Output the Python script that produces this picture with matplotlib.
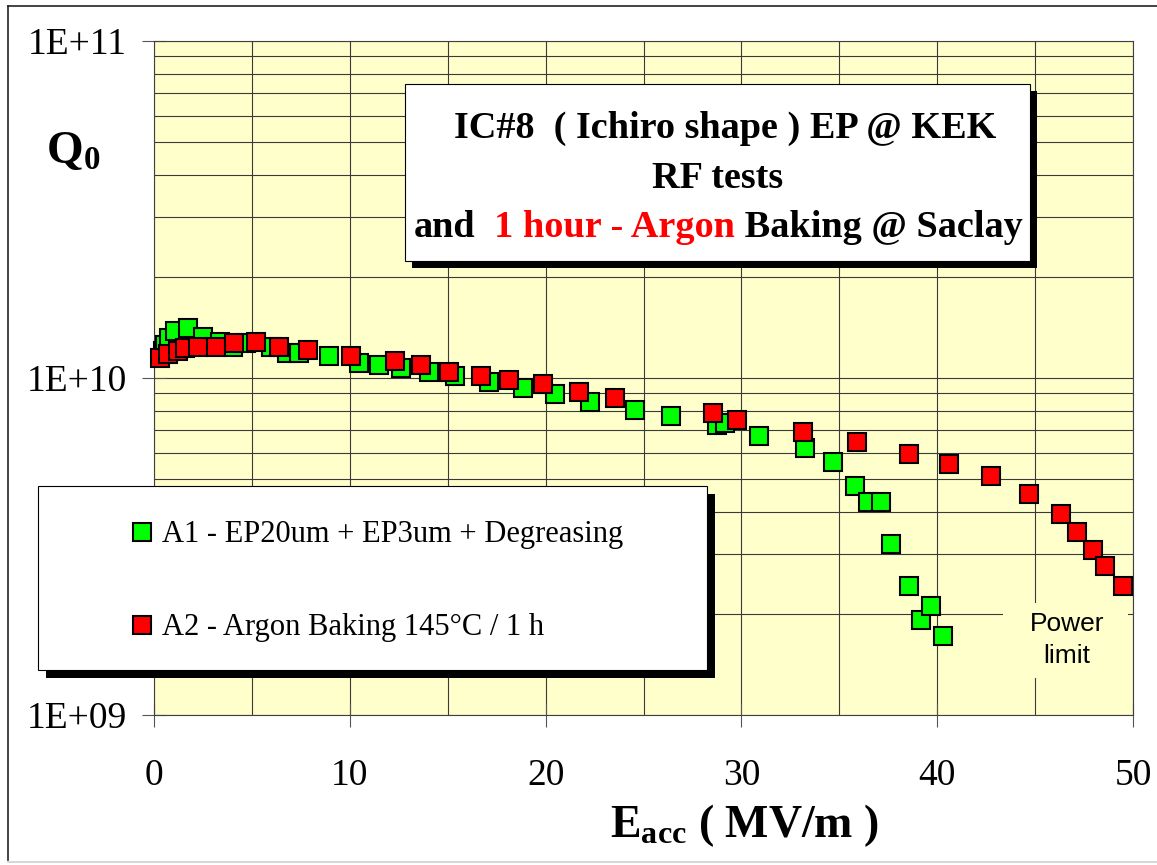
import numpy as np
import matplotlib
matplotlib.use('Agg')
import matplotlib.pyplot as plt
from matplotlib.patches import Rectangle
from matplotlib.lines import Line2D
from matplotlib.ticker import MultipleLocator, LogLocator, NullFormatter

# A1 - EP20um + EP3um + Degreasing (green)
e_a1 = [0.45, 0.54, 0.79, 1.05, 1.76, 2.49, 3.35, 4.03, 4.68, 5.99, 6.79, 7.43,
        8.92, 10.45, 11.47, 12.60, 14.04, 15.36, 17.11, 18.85, 20.46, 22.29,
        24.55, 26.39, 28.73, 29.15, 30.90, 33.24, 34.69, 35.79, 36.47, 37.13,
        37.64, 38.57, 39.17, 39.68, 40.29]
q_a1 = [1.20e10, 1.25e10, 1.31e10, 1.38e10, 1.41e10, 1.32e10, 1.28e10, 1.24e10,
        1.27e10, 1.24e10, 1.19e10, 1.19e10, 1.16e10, 1.11e10, 1.09e10, 1.07e10,
        1.04e10, 1.016e10, 9.75e9, 9.32e9, 8.97e9, 8.51e9, 8.04e9, 7.71e9,
        7.25e9, 7.34e9, 6.73e9, 6.19e9, 5.64e9, 4.78e9, 4.30e9, 4.30e9, 3.22e9,
        2.41e9, 1.91e9, 2.11e9, 1.72e9]

# A2 - Argon Baking 145°C / 1 h (red)
e_a2 = [0.33, 0.71, 1.22, 1.56, 2.24, 3.18, 4.11, 5.22, 6.36, 7.89, 10.04, 12.29,
        13.62, 15.05, 16.68, 18.11, 19.87, 21.69, 23.52, 28.55, 29.78, 33.15,
        35.91, 38.57, 40.59, 42.73, 44.68, 46.32, 47.15, 47.97, 48.57, 49.50]
q_a2 = [1.146e10, 1.18e10, 1.20e10, 1.23e10, 1.24e10, 1.24e10, 1.27e10, 1.28e10,
        1.24e10, 1.21e10, 1.16e10, 1.12e10, 1.09e10, 1.044e10, 1.014e10, 9.87e9,
        9.60e9, 9.11e9, 8.74e9, 7.86e9, 7.51e9, 6.93e9, 6.47e9, 5.95e9, 5.56e9,
        5.12e9, 4.53e9, 3.95e9, 3.49e9, 3.09e9, 2.77e9, 2.41e9]

series_labels = ['A1 - EP20um + EP3um + Degreasing', 'A2 - Argon Baking 145°C / 1 h']
series_colors = ['#00ff00', '#ff0000']

x_ticks = [0, 10, 20, 30, 40, 50]
y_ticks = [1e9, 1e10, 1e11]
y_tick_labels = ['1E+09', '1E+10', '1E+11']

title_line1 = 'IC#8  ( Ichiro shape ) EP @ KEK'
title_line2 = 'RF tests'
title_line3 = [('and', 'black'), ('  1 hour - Argon', '#ff0000'), (' Baking @ Saclay', 'black')]

plt.rcParams['font.family'] = 'Liberation Serif'
plt.rcParams['mathtext.fontset'] = 'custom'
plt.rcParams['mathtext.rm'] = 'Liberation Serif'
plt.rcParams['mathtext.bf'] = 'Liberation Serif:bold'
plt.rcParams['mathtext.it'] = 'Liberation Serif:italic'

W, H = 1157, 865


def fx(px):
    return px / W


def fy(py):
    return 1 - py / H


fig = plt.figure(figsize=(W / 100, H / 100), dpi=100)
ax = fig.add_axes([fx(154), fy(715), fx(1133) - fx(154), fy(41) - fy(715)])
ax.set_facecolor('#ffffcc')
ax.set_yscale('log')

# data
ax.plot(e_a1, q_a1, ls='none', marker='s', ms=12.5, mfc=series_colors[0], mec='black',
        mew=1.5, zorder=3, clip_on=False)
ax.plot(e_a2, q_a2, ls='none', marker='s', ms=12.5, mfc=series_colors[1], mec='black',
        mew=1.5, zorder=4, clip_on=False)

ax.set_xlim(0, 50)
ax.set_ylim(1e9, 1e11)
ax.set_xticks(x_ticks)
ax.xaxis.set_minor_locator(MultipleLocator(5))
ax.set_yticks(y_ticks)
ax.set_yticklabels(y_tick_labels)
ax.yaxis.set_minor_locator(LogLocator(base=10, subs=np.arange(2, 10)))
ax.yaxis.set_minor_formatter(NullFormatter())

ax.grid(which='both', color='#3a3a3a', lw=0.8)
ax.set_axisbelow(True)
ax.tick_params(which='major', direction='inout', length=17, width=0.8, color='#555555',
               labelsize=27)
ax.tick_params(which='minor', length=0)
ax.tick_params(axis='x', pad=23)
ax.tick_params(axis='y', pad=11)
for sp in ax.spines.values():
    sp.set_color('#404040')
    sp.set_linewidth(0.8)

# axis labels
ax.set_xlabel(r'E$_\mathbf{acc}$ ( MV/m )', fontsize=33, fontweight='bold')
ax.xaxis.set_label_coords((744 - 154) / 979, (715 - 837) / 674)
ax.xaxis.label.set_va('baseline')
ax.set_ylabel(r'Q$_\mathbf{0}$', fontsize=34, fontweight='bold', rotation=0)
ax.yaxis.set_label_coords((73 - 154) / 979, (715 - 163) / 674)
ax.yaxis.label.set_va('baseline')
ax.yaxis.label.set_ha('center')

# title box with shadow
fig.add_artist(Rectangle((fx(412), fy(268)), fx(1030) - fx(405), fy(84) - fy(261),
                         transform=fig.transFigure, fc='black', ec='none', zorder=2))
fig.add_artist(Rectangle((fx(405), fy(261)), fx(1030) - fx(405), fy(84) - fy(261),
                         transform=fig.transFigure, fc='white', ec='black', lw=0.8, zorder=2))
fig.text(fx(725), fy(138), title_line1, fontsize=27.5, fontweight='bold', ha='center',
         va='baseline', zorder=5)
fig.text(fx(718), fy(188), title_line2, fontsize=27.5, fontweight='bold', ha='center',
         va='baseline', zorder=5)
renderer = fig.canvas.get_renderer()
parts = [fig.text(0, fy(237), s, color=c, fontsize=27.5, fontweight='bold', va='baseline',
                  zorder=5) for s, c in title_line3]
widths = [t.get_window_extent(renderer).width for t in parts]
xpos = 718 - sum(widths) / 2
for t, w in zip(parts, widths):
    t.set_x(fx(xpos))
    xpos += w

# legend box with shadow
fig.add_artist(Rectangle((fx(46), fy(678)), fx(707) - fx(38), fy(486) - fy(670),
                         transform=fig.transFigure, fc='black', ec='none', zorder=2))
fig.add_artist(Rectangle((fx(38), fy(670)), fx(707) - fx(38), fy(486) - fy(670),
                         transform=fig.transFigure, fc='white', ec='black', lw=0.8, zorder=2))
for lab, col, ym in zip(series_labels, series_colors, [532, 625]):
    fig.add_artist(Line2D([fx(142)], [fy(ym)], transform=fig.transFigure, ls='none',
                          marker='s', ms=12.5, mfc=col, mec='black', mew=1.5, zorder=5))
    fig.text(fx(162), fy(ym + 10), lab, fontsize=22, va='baseline', zorder=5)

# power limit note
fig.add_artist(Rectangle((fx(1003), fy(678)), fx(1128) - fx(1003), fy(603) - fy(678),
                         transform=fig.transFigure, fc='#ffffcc', ec='none', zorder=2))
fig.text(fx(1067), fy(631), 'Power', family='Liberation Sans', fontsize=19, ha='center',
         va='baseline', zorder=5)
fig.text(fx(1067), fy(663), 'limit', family='Liberation Sans', fontsize=19, ha='center',
         va='baseline', zorder=5)

# outer frame
fig.add_artist(Line2D([fx(8), fx(8)], [fy(6), fy(860)], transform=fig.transFigure,
                      color='#222222', lw=1.2))
fig.add_artist(Line2D([fx(8), fx(1157)], [fy(6), fy(6)], transform=fig.transFigure,
                      color='#222222', lw=1.2))
fig.add_artist(Line2D([fx(8), fx(1157)], [fy(862), fy(862)], transform=fig.transFigure,
                      color='#d0d0d0', lw=1.2))

fig.savefig('out.png', dpi=100)
